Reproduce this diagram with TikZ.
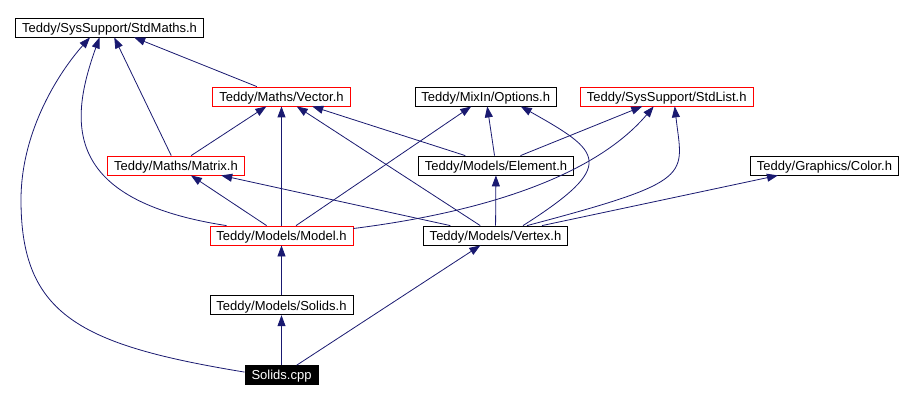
\documentclass[tikz,border=0pt]{standalone}
\usepackage{fontspec}
\setmainfont{Liberation Sans}
\usepackage{tikz}
\usetikzlibrary{arrows.meta, positioning}
\definecolor{edge}{HTML}{191970}
\definecolor{hot}{HTML}{FF0000}

\begin{document}
\begin{tikzpicture}[
  x=1pt, y=-1pt,
  node distance=0pt,
  hdr/.style={
    rectangle, draw=black, fill=white, line width=0.8pt,
    inner xsep=6.5pt, inner ysep=0pt, minimum height=19pt,
    text height=9.5pt, text depth=0pt,
    font=\fontsize{13}{15}\selectfont,
  },
  redhdr/.style={hdr, draw=hot},
  cur/.style={hdr, fill=black, text=white},
  arrow/.style={-{Triangle[length=11pt, width=8pt]}, line width=0.8pt, color=edge},
]
  \useasboundingbox (0,0) rectangle (905,401);

  % headers, top to bottom
  \node[hdr] (maths) at (109.5,27.5) {Teddy/SysSupport/StdMaths.h};
  \node[redhdr] (vector) at (281.5,96.5) {Teddy/Maths/Vector.h};
  \node[hdr, right=64pt of vector] (options) {Teddy/MixIn/Options.h};
  \node[redhdr, right=23pt of options] (stdlist) {Teddy/SysSupport/StdList.h};
  \node[redhdr] (matrix) at (176,165.5) {Teddy/Maths/Matrix.h};
  \node[hdr] (element) at (496,165.5) {Teddy/Models/Element.h};
  \node[hdr] (color) at (824.5,165.5) {Teddy/Graphics/Color.h};
  \node[redhdr] (model) at (281.5,235.5) {Teddy/Models/Model.h};
  \node[hdr] (vertex) at (495.5,235.5) {Teddy/Models/Vertex.h};
  \node[hdr, below=50pt of model] (solidsh) {Teddy/Models/Solids.h};
  \node[cur, below=50pt of solidsh] (cpp) {Solids.cpp};

  % includes
  \draw[arrow] (cpp) -- (solidsh);
  \draw[arrow] (cpp) -- (vertex);
  \draw[arrow] ([yshift=3pt]cpp.west) .. controls (80,345) and (21,315) .. (21,200)
    .. controls (21,130) and (60,71) .. ([xshift=-19.5pt]maths.south);
  \draw[arrow] (solidsh) -- (model);
  \draw[arrow] (model) -- (vector);
  \draw[arrow] (model) -- (matrix);
  \draw[arrow] (model) -- (options);
  \draw[arrow] ([xshift=-55pt]model.north) .. controls (60,200) and (70,120) .. ([xshift=-10pt]maths.south);
  \draw[arrow] ([yshift=7pt]model.east) .. controls (500,210) and (600,170) .. ([xshift=-13pt]stdlist.south);
  \draw[arrow] (matrix) -- (vector);
  \draw[arrow] (matrix) -- (maths);
  \draw[arrow] (vector) -- (maths);
  \draw[arrow] (element) -- (vector);
  \draw[arrow] (element) -- (options);
  \draw[arrow] (element) -- (stdlist);
  \draw[arrow] (vertex) -- (element);
  \draw[arrow] (vertex) -- (vector);
  \draw[arrow] (vertex) -- (matrix);
  \draw[arrow] (vertex) -- (color);
  \draw[arrow] ([xshift=27.5pt]vertex.north) .. controls +(96,-61) and +(80,45) .. ([xshift=35pt]options.south);
  \draw[arrow] ([xshift=31.5pt]vertex.north) .. controls +(170,-45) and +(8,70) .. ([xshift=8pt]stdlist.south);
\end{tikzpicture}
\end{document}
